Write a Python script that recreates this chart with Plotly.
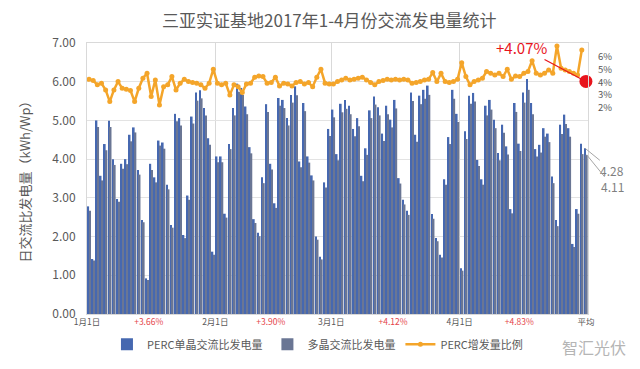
import plotly.graph_objects as go

# ---- data ----
perc_jan = [2.78, 1.42, 5.00, 3.57, 4.39, 4.99, 4.00, 2.97, 3.88, 4.00, 4.63, 4.82, 3.72, 2.43, 0.92, 3.88,
            3.53, 4.48, 4.43, 3.34, 2.30, 5.17, 5.06, 2.04, 3.06, 5.10, 5.72, 5.78, 5.32, 4.54, 1.61]
perc_feb = [4.07, 4.07, 2.59, 4.39, 5.32, 5.95, 5.84, 5.36, 4.31, 2.45, 2.10, 3.53, 5.42, 3.88, 2.86, 5.58,
            5.53, 5.06, 5.66, 5.88, 3.94, 5.45, 4.07, 3.58, 2.00, 1.48, 3.40, 4.78]
perc_mar = [5.28, 4.13, 5.43, 5.53, 5.38, 4.78, 5.06, 3.57, 4.28, 5.26, 5.62, 5.34, 4.66, 5.38, 5.02, 5.53,
            3.51, 2.95, 2.67, 5.72, 4.63, 5.64, 5.79, 5.90, 2.58, 1.96, 1.53, 3.48, 4.57, 5.79, 5.17]
perc_apr = [1.18, 4.72, 5.64, 5.71, 3.98, 3.48, 5.38, 5.53, 5.02, 4.16, 4.89, 4.33, 2.71, 5.45, 4.40, 5.72,
            6.07, 5.45, 4.26, 4.37, 4.80, 4.66, 3.55, 2.43, 4.89, 5.15, 4.80, 1.81, 2.71, 4.40]
perc_avg = 4.28

poly_jan = [2.67, 1.38, 4.83, 3.45, 4.23, 4.83, 3.85, 2.90, 3.75, 3.87, 4.46, 4.69, 3.60, 2.37, 0.88, 3.72,
            3.40, 4.35, 4.27, 3.22, 2.23, 4.98, 4.87, 1.96, 2.95, 4.92, 5.51, 5.57, 5.13, 4.37, 1.53]
poly_feb = [3.92, 3.92, 2.49, 4.26, 5.13, 5.74, 5.66, 5.16, 4.15, 2.35, 2.01, 3.38, 5.22, 3.73, 2.74, 5.38,
            5.32, 4.87, 5.46, 5.65, 3.79, 5.24, 3.91, 3.45, 1.92, 1.41, 3.27, 4.60]
poly_mar = [5.08, 3.97, 5.21, 5.30, 5.16, 4.59, 4.85, 3.43, 4.11, 5.06, 5.41, 5.13, 4.47, 5.16, 4.82, 5.31,
            3.37, 2.83, 2.56, 5.50, 4.45, 5.42, 5.56, 5.66, 2.46, 1.88, 1.46, 3.34, 4.39, 5.56, 4.96]
poly_apr = [1.12, 4.52, 5.43, 5.49, 3.82, 3.34, 5.13, 5.28, 4.80, 3.97, 4.68, 4.12, 2.60, 5.22, 4.21, 5.46,
            5.79, 5.16, 4.07, 4.17, 4.58, 4.44, 3.38, 2.27, 4.65, 4.91, 4.58, 1.73, 2.59, 4.13]
poly_avg = 4.11

gain_jan = [4.24, 4.14, 3.80, 3.93, 3.40, 2.48, 3.40, 4.06, 3.53, 3.45, 3.35, 2.48, 3.53, 4.32, 4.71, 2.88,
            4.19, 2.22, 3.66, 3.80, 4.45, 3.40, 3.93, 4.24, 4.06, 3.98, 3.93, 3.80, 3.53, 3.93, 5.03]
gain_feb = [3.93, 3.80, 3.93, 3.01, 3.80, 3.66, 3.19, 3.87, 3.93, 4.40, 4.50, 4.45, 3.93, 3.98, 4.40, 3.72,
            3.93, 3.87, 3.72, 3.98, 4.06, 3.87, 3.98, 3.66, 4.40, 5.03, 3.93, 3.87]
gain_mar = [3.87, 4.06, 4.19, 4.32, 4.19, 4.24, 4.32, 4.40, 4.19, 3.98, 3.80, 4.06, 4.14, 4.24, 4.19, 4.24,
            4.19, 4.24, 4.19, 3.93, 3.98, 4.06, 4.19, 4.24, 4.77, 4.06, 4.71, 4.06, 3.98, 4.06, 4.24]
gain_apr = [5.55, 4.45, 3.80, 4.06, 4.19, 4.32, 4.85, 4.71, 4.58, 4.71, 4.45, 5.03, 4.24, 4.50, 4.45, 4.71,
            4.85, 5.71, 4.71, 4.58, 4.71, 4.98, 4.71, 6.87, 5.11, 4.98, 4.85, 4.71, 4.58, 6.55]
gain_avg = 4.07

month_start_labels = ["1月1日", "2月1日", "3月1日", "4月1日"]
month_gain_labels = ["+3.66%", "+3.90%", "+4.12%", "+4.83%"]
avg_label = "平均"
pct_ticks = [2, 3, 4, 5, 6]
y_ticks = [0, 1, 2, 3, 4, 5, 6, 7]

# ---- assemble ----
months_perc = [perc_jan, perc_feb, perc_mar, perc_apr]
perc = sum(months_perc, []) + [perc_avg]
poly = poly_jan + poly_feb + poly_mar + poly_apr + [poly_avg]
gain = gain_jan + gain_feb + gain_mar + gain_apr
n_days = len(gain)
idx = list(range(len(perc)))

starts = []
s = 0
for m in months_perc:
    starts.append(s)
    s += len(m)
mids = [st + (len(m) - 1) / 2 - 0.6 for st, m in zip(starts, months_perc)]

tickvals, ticktext = [], []
for st, mid, lab, g in zip(starts, mids, month_start_labels, month_gain_labels):
    tickvals += [st - 0.5, mid]
    ticktext += [lab, f"<span style='color:#E5454A'>{g}</span>"]
tickvals.append(n_days)
ticktext.append(avg_label)

FONT = "Noto Sans CJK SC, Noto Sans, sans-serif"
TXT = "#595959"
GRID = "#D9D9D9"
BLUE = "#4668B0"
GRAY = "#6A7694"
ORANGE = "#F4A52A"
RED = "#E8141C"

fig = go.Figure()
fig.add_trace(go.Bar(x=idx, y=perc, name="PERC单晶交流比发电量",
                     marker=dict(color=BLUE, line=dict(width=0))))
fig.add_trace(go.Bar(x=idx, y=poly, name="多晶交流比发电量",
                     marker=dict(color=GRAY, line=dict(width=0))))
fig.add_trace(go.Scatter(x=idx[:n_days], y=gain, name="PERC增发量比例", yaxis="y2",
                         mode="lines+markers", line=dict(color=ORANGE, width=2.5),
                         marker=dict(color=ORANGE, size=5)))
fig.add_trace(go.Scatter(x=[n_days], y=[gain_avg], yaxis="y2", mode="markers",
                         marker=dict(color=RED, size=13), showlegend=False, cliponaxis=False))

fig.add_annotation(x=n_days, y=gain_avg, yref="y2", text=f"+{gain_avg:.2f}%",
                   showarrow=True, arrowhead=0, arrowwidth=1.2, arrowcolor=RED,
                   ax=-64, ay=-34, font=dict(size=15, color=RED, family=FONT))
fig.add_annotation(x=n_days - 0.2, y=perc_avg, text=f"{perc_avg:.2f}",
                   showarrow=True, arrowhead=0, arrowwidth=1, arrowcolor="#A6A6A6",
                   ax=27, ay=22, font=dict(size=12, color="#7F7F7F", family=FONT))
fig.add_annotation(x=n_days + 0.2, y=poly_avg, text=f"{poly_avg:.2f}",
                   showarrow=True, arrowhead=0, arrowwidth=1, arrowcolor="#A6A6A6",
                   ax=26, ay=32, font=dict(size=12, color="#7F7F7F", family=FONT))
fig.add_annotation(xref="paper", yref="paper", x=1.012, y=-0.122, xanchor="center",
                   yanchor="middle", text="智汇光伏", showarrow=False,
                   font=dict(size=16, color="#B5B5B5", family=FONT))

# the page adds an 8px body margin, so the figure is laid out 8px up/left
fig.update_layout(
    width=640, height=369,
    margin=dict(l=79, r=60, t=35, b=63, autoexpand=False),
    paper_bgcolor="white", plot_bgcolor="white",
    font=dict(family=FONT, color=TXT),
    title=dict(text="三亚实证基地2017年1-4月份交流发电量统计", x=0.502, xanchor="center",
               y=0.966, yanchor="middle", font=dict(size=17, color=TXT, family=FONT)),
    barmode="group", bargap=0.17, bargroupgap=0,
    showlegend=True,
    legend=dict(orientation="h", x=0.46, xanchor="center", y=-0.058, yanchor="top",
                font=dict(size=11, color=TXT, family=FONT), itemwidth=30,
                bgcolor="rgba(0,0,0,0)"),
    xaxis=dict(range=[-0.5, n_days + 0.5], tickvals=tickvals, ticktext=ticktext,
               tickangle=0, tickfont=dict(size=8.5, color=TXT), showgrid=False,
               showline=True, linecolor=GRID, mirror=True, zeroline=False, automargin=False,
               minor=dict(tickvals=[st - 0.5 for st in starts[1:]], showgrid=True,
                          gridcolor=GRID, gridwidth=1)),
    yaxis=dict(range=[0, 7], tickvals=y_ticks, tickformat=".2f",
               tickfont=dict(size=12, color=TXT), showgrid=True, gridcolor="#E3E3E3",
               showline=True, linecolor=GRID, mirror=True, zeroline=False, automargin=False,
               ticks="outside", ticklen=8, tickcolor="rgba(0,0,0,0)",
               title=dict(text="日交流比发电量（kWh/Wp）", standoff=18,
                          font=dict(size=13, color=TXT))),
    yaxis2=dict(overlaying="y", side="right", range=[-14.26, 7.10],
                tickvals=pct_ticks, ticktext=[f"{v}%" for v in pct_ticks],
                tickfont=dict(size=9.5, color=TXT), showgrid=False, zeroline=False,
                automargin=False,
                showline=False, ticks="outside", ticklen=7, tickcolor="rgba(0,0,0,0)"),
)

fig.write_html("out.html")
